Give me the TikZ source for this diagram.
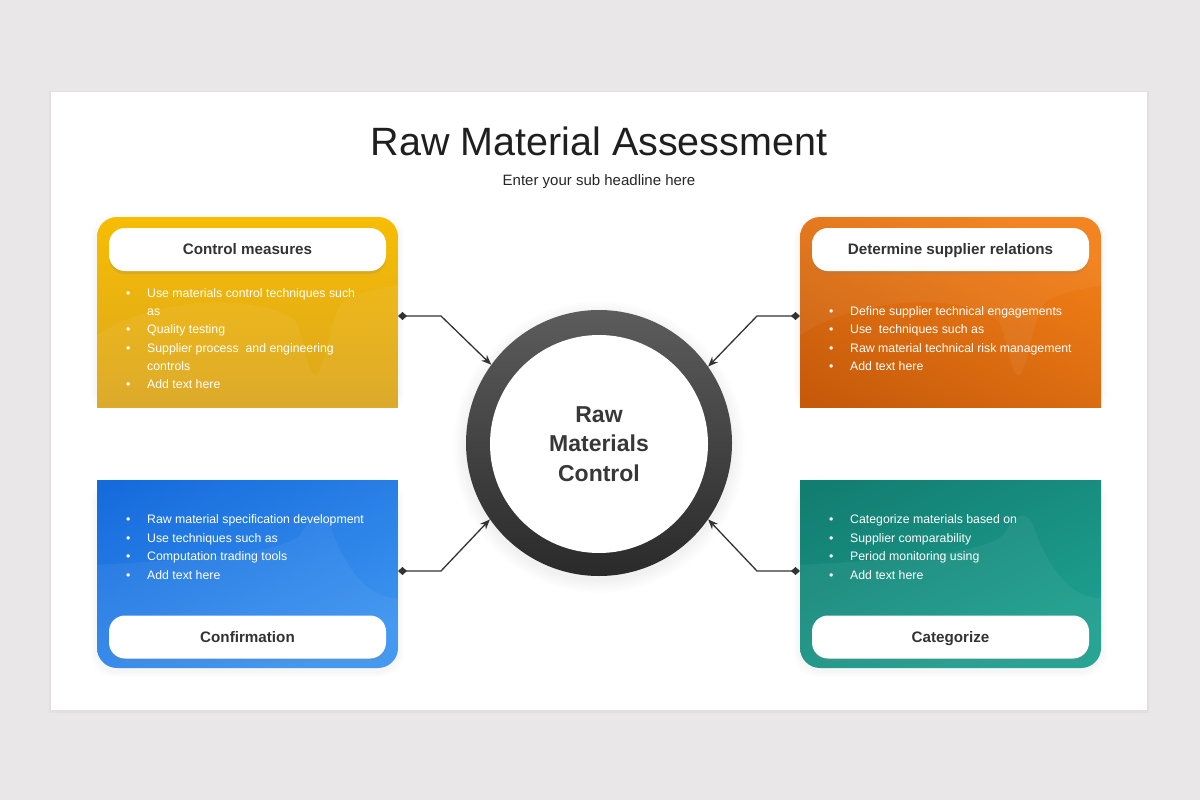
\documentclass[tikz,border=0pt]{standalone}
\usepackage{fontspec}
\setmainfont{Liberation Sans}
\usetikzlibrary{arrows.meta,shadows}
\definecolor{bgc}{HTML}{E9E7E8}
\definecolor{yelT}{HTML}{F7BD02}
\definecolor{yelB}{HTML}{D6A226}
\definecolor{orT}{HTML}{F27F16}
\definecolor{orB}{HTML}{C65A0B}
\definecolor{blT}{HTML}{166BDC}
\definecolor{blB}{HTML}{3C94F0}
\definecolor{tlT}{HTML}{127D71}
\definecolor{tlB}{HTML}{1DA08F}
\definecolor{ink}{HTML}{333333}
\definecolor{ringT}{HTML}{5C5C5C}
\definecolor{ringB}{HTML}{2A2A2A}
\newcommand\bul{\makebox[21pt][l]{\textbullet}}
\begin{document}
\begin{tikzpicture}[x=1pt,y=-1pt,
  bt/.style={font=\fontsize{12.3}{15}\selectfont, text=white, inner sep=0pt, anchor=west, text height=9pt, text depth=2pt},
  pill/.style={fill=white, rounded corners=16pt, minimum width=277pt, minimum height=43pt, inner sep=0pt,
    text height=11pt, text depth=0.5pt,
    font=\bfseries\fontsize{15.2}{18}\selectfont, text=ink,
    drop shadow={opacity=0.2, shadow xshift=0pt, shadow yshift=-3pt}},
  conn/.style={draw=ink, line width=1.3pt, {Diamond[length=9pt,width=8pt]}-{Stealth[length=10pt,width=8pt]}},
  wave/.style={fill=white, opacity=0.05}]
\useasboundingbox (0,0) rectangle (1200,800);
\fill[bgc] (0,0) rectangle (1200,800);
% panel
\fill[black,opacity=0.03] (49,91) rectangle (1149,713);
\fill[white] (51,92) rectangle (1147,710);
% title
\node[font=\fontsize{39.5}{44}\selectfont, text=black!88, inner sep=0pt] (title) at (599,141) {Raw Material Assessment};
\node[font=\fontsize{15}{18}\selectfont, text=black!85, inner sep=0pt] (sub) at (599,182) {Enter your sub headline here};

% card shadows (soft)
\foreach \xo in {0,703}{
  \foreach \g in {2,4,6}{
    \fill[black,opacity=0.012,rounded corners=24pt,xshift=\xo pt] (97-\g,217-\g+3) rectangle (398+\g,407+\g+3);
    \fill[black,opacity=0.012,rounded corners=24pt,xshift=\xo pt] (97-\g,480-\g+3) rectangle (398+\g,668+\g+3);
  }
}
\fill[white] (51,407) rectangle (1147,478);
% top-left card
\begin{scope}
  \clip (97,217) rectangle (398,407);
  \shade[top color=yelT, bottom color=yelB, rounded corners=20pt] (97,217) rectangle (398,440);
  \fill[wave] (97,335) .. controls (150,300) and (250,290) .. (295,320) .. controls (305,340) and (308,378) .. (316,375) .. controls (325,372) and (330,310) .. (345,300) .. controls (365,290) and (385,288) .. (400,285) -- (400,410) -- (95,410) -- cycle;
\end{scope}
% top-right card
\begin{scope}
  \clip (800,217) rectangle (1101,407);
  \shade[top color=orT, bottom color=orB, shading angle=-25, rounded corners=20pt] (800,217) rectangle (1101,440);
  \fill[wave,xshift=703pt] (97,335) .. controls (150,300) and (250,290) .. (295,320) .. controls (305,340) and (308,378) .. (316,375) .. controls (325,372) and (330,310) .. (345,300) .. controls (365,290) and (385,288) .. (400,285) -- (400,210) -- (95,210) -- cycle;
\end{scope}
% bottom-left card
\begin{scope}
  \clip (97,480) rectangle (398,668);
  \shade[top color=blT, bottom color=blB, shading angle=25, rounded corners=20pt] (97,445) rectangle (398,668);
  \fill[wave] (97,565) .. controls (180,560) and (280,555) .. (300,535) .. controls (310,520) and (320,505) .. (330,525) .. controls (345,570) and (370,600) .. (400,598) -- (400,670) -- (95,670) -- cycle;
\end{scope}
% bottom-right card
\begin{scope}
  \clip (800,480) rectangle (1101,668);
  \shade[top color=tlT, bottom color=tlB, shading angle=25, rounded corners=20pt] (800,445) rectangle (1101,668);
  \fill[wave,xshift=703pt] (97,565) .. controls (180,560) and (280,555) .. (300,535) .. controls (310,520) and (320,505) .. (330,525) .. controls (345,570) and (370,600) .. (400,598) -- (400,670) -- (95,670) -- cycle;
\end{scope}

% header pills
\node[pill] (tl-head) at (247.5,249.5) {Control measures};
\node[pill] (tr-head) at (950.5,249.5) {Determine supplier relations};
\node[pill] (bl-head) at (247.5,637) {Confirmation};
\node[pill] (br-head) at (950.5,637) {Categorize};

% bullet texts
\node[bt] (tl1) at (126,294) {\bul Use materials control techniques such};
\node[bt] (tl1b) at (147,312) {as};
\node[bt] (tl2) at (126,330) {\bul Quality testing};
\node[bt] (tl3) at (126,349) {\bul Supplier process\ \ and engineering};
\node[bt] (tl3b) at (147,367) {controls};
\node[bt] (tl4) at (126,385) {\bul Add text here};

\node[bt] (tr1) at (829,312) {\bul Define supplier technical engagements};
\node[bt] (tr2) at (829,330) {\bul Use\ \ techniques such as};
\node[bt] (tr3) at (829,349) {\bul Raw material technical risk management};
\node[bt] (tr4) at (829,367) {\bul Add text here};

\node[bt] (bl1) at (126,520) {\bul Raw material specification development};
\node[bt] (bl2) at (126,539) {\bul Use techniques such as};
\node[bt] (bl3) at (126,557) {\bul Computation trading tools};
\node[bt] (bl4) at (126,576) {\bul Add text here};

\node[bt] (br1) at (829,520) {\bul Categorize materials based on};
\node[bt] (br2) at (829,539) {\bul Supplier comparability};
\node[bt] (br3) at (829,557) {\bul Period monitoring using};
\node[bt] (br4) at (829,576) {\bul Add text here};

% hub circle
\foreach \r in {134,136,...,146}{
  \fill[black,opacity=0.008] (599,447) circle (\r pt);
}
\node[circle, minimum size=266pt, inner sep=0pt, top color=ringT, bottom color=ringB] (hub) at (599,443) {};
\node[circle, fill=white, minimum size=218pt, inner sep=0pt, align=center,
  font=\bfseries\fontsize{23}{29.5}\selectfont, text=black!78] (core) at (599,444) {Raw\\Materials\\Control};

% connectors
\coordinate (tl-d) at (398,316); \coordinate (tl-k) at (441,316);
\coordinate (tr-d) at (800,316); \coordinate (tr-k) at (757,316);
\coordinate (bl-d) at (398,571); \coordinate (bl-k) at (441,571);
\coordinate (br-d) at (800,571); \coordinate (br-k) at (757,571);
\draw[conn] (tl-d) -- (tl-k) -- (hub.144.5);
\draw[conn] (tr-d) -- (tr-k) -- (hub.35.5);
\draw[conn] (bl-d) -- (bl-k) -- (hub.215.5);
\draw[conn] (br-d) -- (br-k) -- (hub.-35.5);
\end{tikzpicture}
\end{document}
